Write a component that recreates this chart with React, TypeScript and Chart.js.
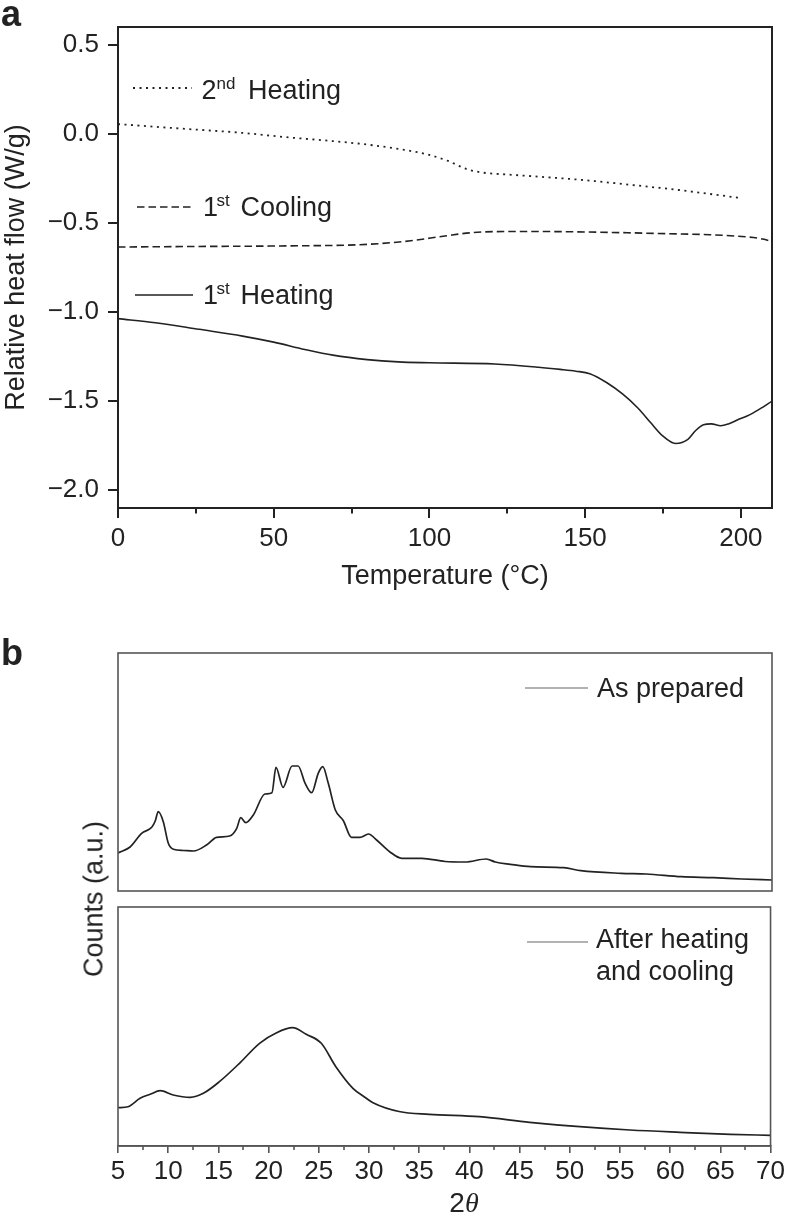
import React, { useEffect, useRef } from "react";
import { Chart, registerables } from "chart.js";

Chart.register(...registerables);

const SANS = "'Liberation Sans', Arial, Helvetica, sans-serif";
const SERIF = "'Liberation Serif', 'DejaVu Serif', serif";
const INK = "#222";

// ---------- Panel a: DSC ----------
const heating2Temp = [0, 20, 39, 55, 66, 80, 92, 99, 106, 112, 117, 125, 135, 150, 163, 180, 200];
const heating2Flow = [0.055, 0.03, 0.007, -0.02, -0.036, -0.06, -0.09, -0.114, -0.152, -0.198, -0.217, -0.228, -0.24, -0.26, -0.283, -0.315, -0.36];

const cooling1Temp = [0, 25, 52, 80, 94, 105, 114, 125, 135, 155, 176, 190, 198, 204, 207, 210];
const cooling1Flow = [-0.635, -0.632, -0.629, -0.62, -0.6, -0.573, -0.554, -0.548, -0.548, -0.552, -0.56, -0.566, -0.573, -0.582, -0.59, -0.605];

const heating1Temp = [0, 12, 26, 40, 50, 60, 69, 80, 90, 100, 121, 135, 142, 147, 151.5, 157, 162, 167, 171, 175, 179, 183, 185.5, 188, 190.5, 193.5, 196, 199, 202, 206, 210];
const heating1Flow = [-1.037, -1.06, -1.097, -1.135, -1.169, -1.21, -1.242, -1.267, -1.28, -1.285, -1.292, -1.31, -1.322, -1.332, -1.346, -1.397, -1.46, -1.54, -1.62, -1.697, -1.738, -1.715, -1.665, -1.633, -1.628, -1.638, -1.628, -1.605, -1.584, -1.545, -1.5];

const tempMin = 0;
const tempMax = 210;
const tempStep = 50;
const tempMinorTicks = [25, 75, 125, 175];
const flowMin = -2.1;
const flowMax = 0.6;
const flowStep = 0.5;

// ---------- Panel b: XRD ----------
const asPreparedAngle = [5, 6.2, 7.35, 8.35, 8.7, 9.0, 9.5, 10.0, 10.5, 11.5, 12.5, 13.8, 14.8, 16.1, 16.8, 17.2, 17.7, 18.45, 19.6, 20.3, 20.7, 21.4, 22.3, 22.9, 23.6, 24.25, 24.9, 25.35, 25.9, 26.6, 27.4, 28.2, 29.05, 29.9, 30.7, 32.0, 33.2, 35.2, 37.5, 39.5, 41.6, 42.5, 44, 46, 49.3, 51, 55, 57.5, 61, 64.2, 67, 70];
const asPreparedCounts = [38, 44, 57.7, 63.7, 70, 79.3, 69.3, 47.7, 41.7, 40.5, 40, 46, 53.7, 55, 62.7, 73.3, 68.3, 76, 97, 98.3, 123.7, 103.7, 125, 125, 107.7, 98.3, 117.7, 124.3, 107.7, 81, 70.3, 53.7, 53.7, 57, 51, 39.3, 32.7, 32.7, 29.5, 29, 32, 29, 26.7, 24.3, 23.3, 20.3, 17.7, 17, 14.3, 13.3, 12, 11];

const afterAngle = [5, 6.0, 7.2, 8.2, 9.2, 10.5, 12.2, 13.5, 15.1, 17.1, 19.1, 20.8, 22.4, 23.75, 25.25, 26.7, 28.4, 29.7, 30.4, 33, 36, 41, 46, 51, 56, 61, 66, 70];
const afterCounts = [38.3, 39.3, 47.7, 51.7, 55.3, 51, 48.7, 52.7, 64.3, 82.7, 102.7, 113.3, 118.3, 111.7, 102.7, 79.3, 57.7, 48, 43.3, 34.5, 31.7, 29.3, 23.7, 19.3, 16, 13.7, 11.7, 10.7];

const angleMin = 5;
const angleMax = 70;
const angleStep = 5;
const angleMinorTicks = [7.5, 12.5, 17.5, 22.5, 27.5, 32.5, 37.5, 42.5, 47.5, 52.5, 57.5, 62.5, 67.5];
const countsMax = 238;

function pts(xs: number[], ys: number[]) {
  return xs.map((x, i) => ({ x, y: ys[i] }));
}

function framePlugin(color: string, width: number) {
  return {
    id: "frame",
    afterDraw(chart: any) {
      const { ctx, chartArea: a } = chart;
      ctx.save();
      ctx.setLineDash([]);
      ctx.strokeStyle = color;
      ctx.lineWidth = width;
      ctx.strokeRect(a.left, a.top, a.right - a.left, a.bottom - a.top);
      ctx.restore();
    },
  };
}

function minorTickPlugin(values: number[], length: number, color: string, width: number) {
  return {
    id: "minorTicks",
    afterDraw(chart: any) {
      const { ctx, chartArea } = chart;
      const xs = chart.scales.x;
      ctx.save();
      ctx.strokeStyle = color;
      ctx.lineWidth = width;
      values.forEach((v) => {
        const px = Math.round(xs.getPixelForValue(v));
        ctx.beginPath();
        ctx.moveTo(px, chartArea.bottom);
        ctx.lineTo(px, chartArea.bottom + length);
        ctx.stroke();
      });
      ctx.restore();
    },
  };
}

type Sample = { x0: number; x1: number; y: number; dash: number[]; color: string; width: number };
type Piece = { text: string; x: number; y: number; font: string };

function notesPlugin(samples: Sample[], pieces: Piece[]) {
  return {
    id: "notes",
    afterDraw(chart: any) {
      const ctx = chart.ctx;
      ctx.save();
      samples.forEach((s) => {
        ctx.beginPath();
        ctx.setLineDash(s.dash);
        ctx.strokeStyle = s.color;
        ctx.lineWidth = s.width;
        ctx.moveTo(s.x0, s.y);
        ctx.lineTo(s.x1, s.y);
        ctx.stroke();
      });
      ctx.setLineDash([]);
      ctx.fillStyle = INK;
      ctx.textAlign = "left";
      ctx.textBaseline = "alphabetic";
      pieces.forEach((p) => {
        ctx.font = p.font;
        ctx.fillText(p.text, p.x, p.y);
      });
      ctx.restore();
    },
  };
}

const F27 = `27px ${SANS}`;
const F17 = `17px ${SANS}`;
const BOLD = `bold 36px ${SANS}`;
const DOT = [2, 4.5];
const DASH = [7.5, 4];

const fmtFlow = (v: any) => {
  const n = Number(v);
  const s = Math.abs(n).toFixed(1);
  return n < -1e-9 ? "\u2212" + s : s;
};

export default function App() {
  const refA = useRef<HTMLCanvasElement>(null);
  const refB1 = useRef<HTMLCanvasElement>(null);
  const refB2 = useRef<HTMLCanvasElement>(null);

  useEffect(() => {
    const charts: Chart[] = [];
    const line = (data: any, dash: number[], width: number) => ({
      data,
      borderColor: INK,
      borderWidth: width,
      borderDash: dash,
      pointRadius: 0,
      fill: false,
      cubicInterpolationMode: "monotone" as const,
    });

    // Panel a
    charts.push(
      new Chart(refA.current!, {
        type: "line",
        data: {
          datasets: [
            line(pts(heating2Temp, heating2Flow), DOT, 1.8),
            line(pts(cooling1Temp, cooling1Flow), DASH, 1.6),
            line(pts(heating1Temp, heating1Flow), [], 1.6),
          ],
        },
        options: {
          animation: false,
          responsive: false,
          events: [],
          layout: { padding: { left: 0, top: 27, right: 16, bottom: 0 } },
          plugins: { legend: { display: false }, tooltip: { enabled: false } },
          scales: {
            x: {
              type: "linear",
              min: tempMin,
              max: tempMax,
              ticks: { stepSize: tempStep, includeBounds: false, autoSkip: false, maxRotation: 0, color: INK, padding: 5, font: { family: SANS, size: 26 } },
              grid: { drawOnChartArea: false, tickLength: 10, color: INK, lineWidth: 2 },
              border: { color: INK, width: 2 },
              title: { display: true, text: "Temperature (\u00B0C)", color: INK, font: { family: SANS, size: 27 }, padding: { top: 0, bottom: 7 } },
              afterFit: (s: any) => { s.height = 92; },
            },
            y: {
              type: "linear",
              min: flowMin,
              max: flowMax,
              ticks: { stepSize: flowStep, includeBounds: false, autoSkip: false, color: INK, padding: 9, font: { family: SANS, size: 26 }, callback: fmtFlow },
              grid: { drawOnChartArea: false, tickLength: 10, color: INK, lineWidth: 2 },
              border: { color: INK, width: 2 },
              title: { display: true, text: "Relative heat flow (W/g)", color: INK, font: { family: SANS, size: 27 }, padding: { top: 0, bottom: 0 } },
              afterFit: (s: any) => { s.width = 118; },
            },
          },
        } as any,
        plugins: [
          framePlugin(INK, 2),
          minorTickPlugin(tempMinorTicks, 5.5, INK, 2),
          notesPlugin(
            [
              { x0: 133, x1: 192, y: 88, dash: DOT, color: INK, width: 1.8 },
              { x0: 137, x1: 192, y: 207, dash: DASH, color: INK, width: 1.6 },
              { x0: 135, x1: 193, y: 295, dash: [], color: INK, width: 1.6 },
            ],
            [
              { text: "a", x: 1, y: 26, font: BOLD },
              { text: "2", x: 201.5, y: 99, font: F27 },
              { text: "nd", x: 216.5, y: 88.5, font: F17 },
              { text: "Heating", x: 248, y: 99, font: F27 },
              { text: "1", x: 203, y: 216, font: F27 },
              { text: "st", x: 216.5, y: 206, font: F17 },
              { text: "Cooling", x: 240.5, y: 216, font: F27 },
              { text: "1", x: 203, y: 304, font: F27 },
              { text: "st", x: 216.5, y: 294, font: F17 },
              { text: "Heating", x: 240.5, y: 304, font: F27 },
            ]
          ),
        ],
      })
    );

    // Panel b, top
    charts.push(
      new Chart(refB1.current!, {
        type: "line",
        data: { datasets: [line(pts(asPreparedAngle, asPreparedCounts), [], 1.7)] },
        options: {
          animation: false,
          responsive: false,
          events: [],
          layout: { padding: { left: 118, top: 33, right: 16, bottom: 9 } },
          plugins: { legend: { display: false }, tooltip: { enabled: false } },
          scales: {
            x: { type: "linear", display: false, min: angleMin, max: angleMax },
            y: { type: "linear", display: false, min: 0, max: countsMax },
          },
        } as any,
        plugins: [
          framePlugin("#555", 1.6),
          notesPlugin(
            [{ x0: 525, x1: 588, y: 68, dash: [], color: "#999", width: 1.3 }],
            [
              { text: "b", x: 1, y: 45, font: BOLD },
              { text: "As prepared", x: 597, y: 77, font: F27 },
            ]
          ),
        ],
      })
    );

    // Panel b, bottom
    charts.push(
      new Chart(refB2.current!, {
        type: "line",
        data: { datasets: [line(pts(afterAngle, afterCounts), [], 1.7)] },
        options: {
          animation: false,
          responsive: false,
          events: [],
          layout: { padding: { left: 118, top: 7, right: 16, bottom: 0 } },
          plugins: { legend: { display: false }, tooltip: { enabled: false } },
          scales: {
            x: {
              type: "linear",
              min: angleMin,
              max: angleMax,
              ticks: { stepSize: angleStep, includeBounds: false, autoSkip: false, maxRotation: 0, color: INK, padding: 3, font: { family: SANS, size: 26 } },
              grid: { drawOnChartArea: false, tickLength: 7, color: "#555", lineWidth: 1.6 },
              border: { color: "#555", width: 1.6 },
              afterFit: (s: any) => { s.height = 73; },
            },
            y: { type: "linear", display: false, min: 0, max: countsMax + 1 },
          },
        } as any,
        plugins: [
          framePlugin("#555", 1.6),
          minorTickPlugin(angleMinorTicks, 4, "#555", 1.6),
          notesPlugin(
            [{ x0: 527, x1: 588, y: 42, dash: [], color: "#999", width: 1.3 }],
            [
              { text: "After heating", x: 596, y: 48, font: F27 },
              { text: "and cooling", x: 596, y: 80, font: F27 },
            ]
          ),
        ],
      })
    );

    return () => charts.forEach((c) => c.destroy());
  }, []);

  const canvasStyle = (top: number, h: number): React.CSSProperties => ({
    position: "absolute",
    left: 0,
    top,
    width: 788,
    height: h,
    display: "block",
  });

  return (
    <div
      style={{
        position: "absolute",
        left: 0,
        top: 0,
        width: 788,
        height: 1219,
        background: "#fff",
        overflow: "hidden",
        fontFamily: SANS,
        color: INK,
      }}
    >
      <canvas ref={refA} width={788} height={600} style={canvasStyle(0, 600)} />
      <canvas ref={refB1} width={788} height={280} style={canvasStyle(620, 280)} />
      <canvas ref={refB2} width={788} height={319} style={canvasStyle(900, 319)} />
      <div
        style={{
          position: "absolute",
          left: 94,
          top: 899,
          transform: "translate(-50%, -50%) rotate(-90deg)",
          fontSize: 27,
          lineHeight: 1,
          whiteSpace: "nowrap",
        }}
      >
        Counts (a.u.)
      </div>
      <div
        style={{
          position: "absolute",
          left: 464,
          top: 1203,
          transform: "translate(-50%, -50%)",
          fontSize: 28,
          lineHeight: 1,
          whiteSpace: "nowrap",
        }}
      >
        2<span style={{ fontFamily: SERIF, fontStyle: "italic" }}>θ</span>
      </div>
    </div>
  );
}
